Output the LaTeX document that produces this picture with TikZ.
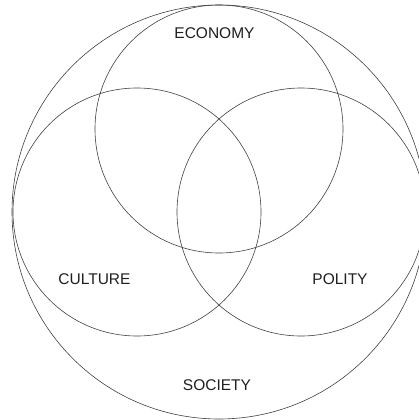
\documentclass[tikz,border=0pt]{standalone}
\usepackage{fontspec}
\setmainfont{Liberation Sans}
\begin{document}
\begin{tikzpicture}[x=1pt,y=-1pt,
  ring/.style={draw=black!75, line width=0.6pt},
  label/.style={font=\fontsize{15.5}{18}\selectfont, text=black!88, inner sep=0pt}]
\useasboundingbox (0,0) rectangle (419,420);
\begin{scope}
\clip (0,0) rectangle (419,420);
% outer circle: the society
\draw[ring] (219,212) circle[radius=207];
% the three overlapping spheres
\draw[ring] (219,129) circle[radius=124];
\draw[ring] (137,212) circle[radius=124];
\draw[ring] (301,212) circle[radius=124];
\end{scope}
\node[label] (eco) at (214.5,33) {ECONOMY};
\node[label] (cul) at (94.5,279) {CULTURE};
\node[label] (pol) at (340,279) {POLITY};
\node[label] (soc) at (217,385) {SOCIETY};
\end{tikzpicture}
\end{document}
